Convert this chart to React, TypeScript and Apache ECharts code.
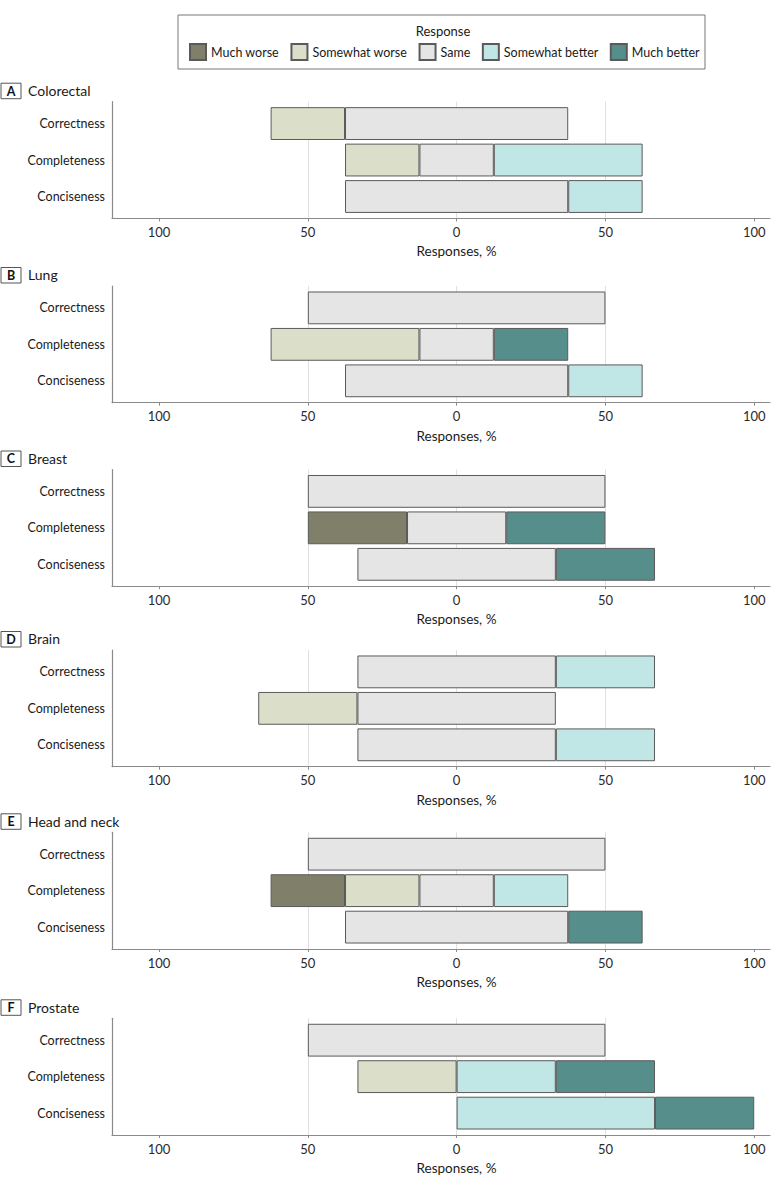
import React, { useEffect, useRef } from 'react';
import * as echarts from 'echarts';

const categories = ['Correctness', 'Completeness', 'Conciseness'];
const panelNames = ['Colorectal', 'Lung', 'Breast', 'Brain', 'Head and neck', 'Prostate'];
const panelLetters = ['A', 'B', 'C', 'D', 'E', 'F'];
const responseNames = ['Much worse', 'Somewhat worse', 'Same', 'Somewhat better', 'Much better'];
const responseColors = ['#80806a', '#dbdfc9', '#e5e5e5', '#c0e6e6', '#568e8c'];

// values per panel: [Correctness, Completeness, Conciseness], in %
const muchWorse = [[0, 0, 0], [0, 0, 0], [0, 33.33, 0], [0, 0, 0], [0, 25, 0], [0, 0, 0]];
const somewhatWorse = [[25, 25, 0], [0, 50, 0], [0, 0, 0], [0, 33.33, 0], [0, 25, 0], [0, 33.33, 0]];
const same = [[75, 25, 75], [100, 25, 75], [100, 33.33, 66.67], [66.67, 66.67, 66.67], [100, 25, 75], [100, 0, 0]];
const somewhatBetter = [[0, 50, 25], [0, 0, 25], [0, 0, 0], [33.33, 0, 33.33], [0, 25, 0], [0, 33.33, 66.67]];
const muchBetter = [[0, 0, 0], [0, 25, 0], [0, 33.33, 33.33], [0, 0, 0], [0, 0, 25], [0, 33.33, 33.33]];

const xTicks = [-100, -50, 0, 50, 100];
const X_MIN = -115.8;
const X_MAX = 105.3;

const FONT = 'Lato';
const TEXT = '#1a1a1a';
const PANEL_TOPS = [101.7, 286, 469.5, 650, 832.3, 1018.3];
const PANEL_H = 116.7;
const GRID_LEFT = 112;
const GRID_RIGHT = 10;

export default function App() {
  const ref = useRef<HTMLDivElement>(null);

  useEffect(() => {
    if (!ref.current) return;
    const chart = echarts.init(ref.current, undefined, { renderer: 'svg' });

    const unit = PANEL_H / 3.2;
    const grids: any[] = [];
    const xAxes: any[] = [];
    const yAxes: any[] = [];
    const series: any[] = [];
    const graphics: any[] = [];
    const groups = [muchWorse, somewhatWorse, same, somewhatBetter, muchBetter];

    PANEL_TOPS.forEach((top, i) => {
      grids.push({ left: GRID_LEFT, right: GRID_RIGHT, top: top, height: PANEL_H });
      grids.push({ left: GRID_LEFT, right: GRID_RIGHT, top: top + unit * 0.1, height: unit * 3 });
      const outer = 2 * i;
      const inner = 2 * i + 1;
      xAxes.push({
        gridIndex: outer,
        type: 'value',
        min: X_MIN,
        max: X_MAX,
        axisLine: { show: true, onZero: false, lineStyle: { color: '#8a8a8a', width: 1.2 } },
        axisTick: { show: true, length: 3, customValues: xTicks, lineStyle: { color: '#8a8a8a' } },
        axisLabel: {
          customValues: xTicks,
          formatter: (v: number) => String(Math.abs(v)),
          margin: 7,
          fontSize: 13,
          color: '#2a2a2a',
          fontFamily: FONT,
        },
        splitLine: { show: true, showMinLine: false, showMaxLine: false, lineStyle: { color: '#e0e0e0', width: 1 } },
        name: 'Responses, %',
        nameLocation: 'middle',
        nameGap: 26,
        nameTextStyle: { fontSize: 13.5, color: TEXT, fontFamily: FONT, padding: [0, 0, 0, 31] },
      });
      xAxes.push({ gridIndex: inner, type: 'value', min: X_MIN, max: X_MAX, show: false });
      yAxes.push({
        gridIndex: outer,
        type: 'value',
        min: 0,
        max: 1,
        axisLine: { show: true, onZero: false, lineStyle: { color: '#8a8a8a', width: 1.2 } },
        axisTick: { show: false },
        axisLabel: { show: false },
        splitLine: { show: false },
      });
      yAxes.push({
        gridIndex: inner,
        type: 'category',
        data: categories,
        inverse: true,
        axisLine: { show: false, onZero: false },
        axisTick: { show: false },
        axisLabel: { margin: 7, fontSize: 12.5, color: TEXT, fontFamily: FONT },
      });

      const offsets = categories.map((_, k) => -(muchWorse[i][k] + somewhatWorse[i][k] + same[i][k] / 2));
      series.push({
        type: 'bar',
        name: 'offset' + i,
        xAxisIndex: inner,
        yAxisIndex: inner,
        stack: 'p' + i,
        stackStrategy: 'all',
        barWidth: unit * 0.9,
        silent: true,
        emphasis: { disabled: true },
        itemStyle: { color: 'rgba(0,0,0,0)', borderWidth: 0 },
        data: offsets,
      });
      groups.forEach((g, r) => {
        series.push({
          type: 'bar',
          name: responseNames[r],
          xAxisIndex: inner,
          yAxisIndex: inner,
          stack: 'p' + i,
          stackStrategy: 'all',
          barWidth: unit * 0.9,
          emphasis: { disabled: true },
          itemStyle: { color: responseColors[r], borderColor: '#5a5a5a', borderWidth: 1 },
          data: g[i].map((v) => (v === 0 ? { value: 0, itemStyle: { borderWidth: 0 } } : v)),
        });
      });

      graphics.push({
        type: 'rect',
        shape: { x: 1, y: top - 18.5, width: 20, height: 15.5 },
        style: { fill: '#fff', stroke: '#555', lineWidth: 1 },
      });
      graphics.push({
        type: 'text',
        x: 11,
        y: top - 10.7,
        style: {
          text: panelLetters[i],
          fontSize: 12.5,
          fontWeight: 'bold',
          fontFamily: FONT,
          fill: '#111',
          align: 'center',
          verticalAlign: 'middle',
        },
      });
      graphics.push({
        type: 'text',
        x: 28,
        y: top - 11.3,
        style: {
          text: panelNames[i],
          fontSize: 14,
          fontFamily: FONT,
          fill: TEXT,
          align: 'left',
          verticalAlign: 'middle',
        },
      });
    });

    graphics.push({
      type: 'rect',
      shape: { x: 178, y: 15, width: 527, height: 54 },
      style: { fill: 'none', stroke: '#777', lineWidth: 1 },
    });
    graphics.push({
      type: 'text',
      x: 443,
      y: 31,
      style: {
        text: 'Response',
        fontSize: 13,
        fontFamily: FONT,
        fill: TEXT,
        align: 'center',
        verticalAlign: 'middle',
      },
    });

    chart.setOption({
      animation: false,
      grid: grids,
      xAxis: xAxes,
      yAxis: yAxes,
      series,
      legend: {
        data: responseNames,
        top: 43,
        left: 189,
        padding: 0,
        itemWidth: 16,
        itemHeight: 16,
        itemGap: 11.5,
        icon: 'rect',
        selectedMode: false,
        textStyle: { fontSize: 12.5, color: TEXT, fontFamily: FONT },
      },
      graphic: graphics,
    });

    return () => chart.dispose();
  }, []);

  return (
    <div
      ref={ref}
      style={{ position: 'absolute', left: 0, top: 0, width: 780, height: 1187, background: '#fff' }}
    />
  );
}
